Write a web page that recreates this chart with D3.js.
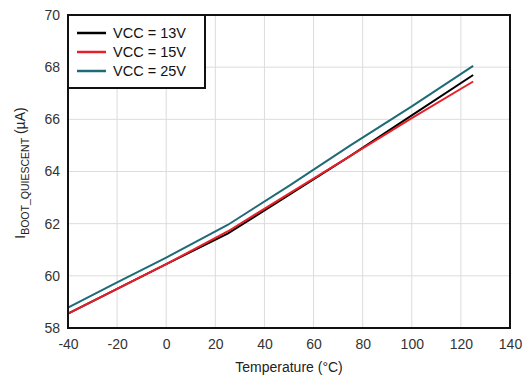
<!DOCTYPE html>
<html><head><meta charset="utf-8">
<script src="https://cdn.jsdelivr.net/npm/d3@7"></script>
<style>body{margin:0;background:#fff;}text{font-family:Arial,"Liberation Sans",sans-serif;}</style>
</head><body><svg id="c" width="531" height="379"></svg>
<script>
const temps = [-40, -20, 0, 25, 50, 75, 100, 125];
const vcc13 = [58.55, 59.5, 60.45, 61.62, 63.1, 64.6, 66.15, 67.7];
const vcc15 = [58.55, 59.5, 60.45, 61.7, 63.15, 64.6, 66.05, 67.45];
const vcc25 = [58.78, 59.75, 60.7, 61.95, 63.45, 65.0, 66.5, 68.05];
const seriesNames = ["VCC = 13V", "VCC = 15V", "VCC = 25V"];
const seriesColors = ["#000000", "#e8202a", "#1f6b75"];
const xTicks = [-40, -20, 0, 20, 40, 60, 80, 100, 120, 140];
const yTicks = [58, 60, 62, 64, 66, 68, 70];

const svg = d3.select("#c");
const L = 68, R = 510, T = 15, B = 328;
const x = d3.scaleLinear().domain([-40, 140]).range([L, R]);
const y = d3.scaleLinear().domain([58, 70]).range([B, T]);

// grid
svg.append("g").selectAll("line").data(xTicks.slice(1, -1)).join("line")
  .attr("x1", d => x(d)).attr("x2", d => x(d)).attr("y1", T).attr("y2", B)
  .attr("stroke", "#dcdcdc").attr("stroke-width", 1);
svg.append("g").selectAll("line").data(yTicks.slice(1, -1)).join("line")
  .attr("x1", L).attr("x2", R).attr("y1", d => y(d)).attr("y2", d => y(d))
  .attr("stroke", "#dcdcdc").attr("stroke-width", 1);

// axes (labels only)
const xAxis = svg.append("g").attr("transform", `translate(0,${B})`)
  .call(d3.axisBottom(x).tickValues(xTicks).tickFormat(d => String(d)).tickSize(0).tickPadding(11));
const yAxis = svg.append("g").attr("transform", `translate(${L},0)`)
  .call(d3.axisLeft(y).tickValues(yTicks).tickFormat(d => String(d)).tickSize(0).tickPadding(8));
[xAxis, yAxis].forEach(a => {
  a.select(".domain").remove();
  a.selectAll("text").attr("font-size", 14).attr("fill", "#333")
    .attr("font-family", "Arial, 'Liberation Sans', sans-serif");
});

// lines
const data = [vcc13, vcc15, vcc25];
const line = d3.line().x((d, i) => x(temps[i])).y(d => y(d));
const order = [2, 0, 1];
order.forEach(k => {
  svg.append("path").datum(data[k]).attr("d", line)
    .attr("fill", "none").attr("stroke", seriesColors[k]).attr("stroke-width", 2);
});

// frame
svg.append("rect").attr("x", L).attr("y", T).attr("width", R - L).attr("height", B - T)
  .attr("fill", "none").attr("stroke", "#111").attr("stroke-width", 2);

// legend
const lg = svg.append("g");
lg.append("rect").attr("x", L).attr("y", T).attr("width", 137).attr("height", 73)
  .attr("fill", "#fff").attr("stroke", "#111").attr("stroke-width", 2);
seriesNames.forEach((n, i) => {
  const yy = 33 + i * 19;
  lg.append("line").attr("x1", 77).attr("x2", 106).attr("y1", yy).attr("y2", yy)
    .attr("stroke", seriesColors[i]).attr("stroke-width", 2.5);
  lg.append("text").attr("x", 113).attr("y", yy + 5).attr("font-size", 14.5)
    .attr("fill", "#111").text(n);
});

// axis titles
svg.append("text").attr("x", 289).attr("y", 372).attr("text-anchor", "middle")
  .attr("font-size", 14).attr("fill", "#222").text("Temperature (°C)");
const yt = svg.append("text").attr("transform", "translate(25,173) rotate(-90)")
  .attr("text-anchor", "middle").attr("font-size", 14).attr("fill", "#222");
yt.append("tspan").text("I");
yt.append("tspan").attr("font-size", 10.5).attr("dy", 4).text("BOOT_QUIESCENT");
yt.append("tspan").attr("dy", -4).text(" (µA)");
</script></body></html>
